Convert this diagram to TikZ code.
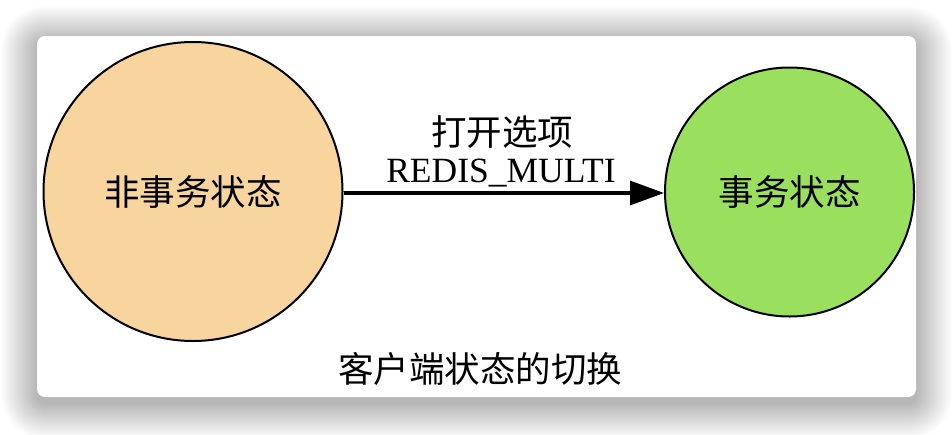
\documentclass[tikz,border=0pt]{standalone}
\usepackage{fontspec}
\setmainfont{Liberation Serif}
\newfontfamily\cjk{Noto Sans CJK SC}
\usetikzlibrary{arrows.meta}
\definecolor{peach}{HTML}{F8D49E}
\definecolor{lgreen}{HTML}{9AE05E}
\tikzset{
  state/.style={circle,draw=black,line width=2pt,inner sep=0pt,font=\cjk\fontsize{35.5}{40}\selectfont},
  lbl/.style={inner sep=0pt,font=\fontsize{35.5}{40}\selectfont},
  conn/.style={line width=3.2pt,-{Triangle[length=34pt,width=24pt]}}
}
\begin{document}
\begin{tikzpicture}[x=1pt,y=-1pt]
\useasboundingbox (0,0) rectangle (952,434);
\fill[white] (0,0) rectangle (952,434);
% shadow
\foreach \i in {1,...,36}{
  \pgfmathsetmacro\rr{8+\i}
  \fill[black,opacity=0.0065,rounded corners=\rr pt] (37-\i,42-\i) rectangle (916+\i,403+\i);
}
% card
\fill[white,rounded corners=8pt] (37,36) rectangle (916,397);
% nodes
\node[state,fill=peach,minimum size=299pt] (a) at (193,191.5) {非事务状态};
\node[state,fill=lgreen,minimum size=249pt] (b) at (789.5,192) {事务状态};
\draw[conn] (a.east |- 0,193) coordinate (s) (s) -- (b.west |- 0,193);
\node[lbl,anchor=center] (l1) at (502,132) {\cjk 打开选项};
\node[lbl,anchor=base] (l2) at (501,182) {REDIS\_MULTI};
\node[lbl,anchor=center] (cap) at (480,369) {\cjk 客户端状态的切换};
\end{tikzpicture}
\end{document}
